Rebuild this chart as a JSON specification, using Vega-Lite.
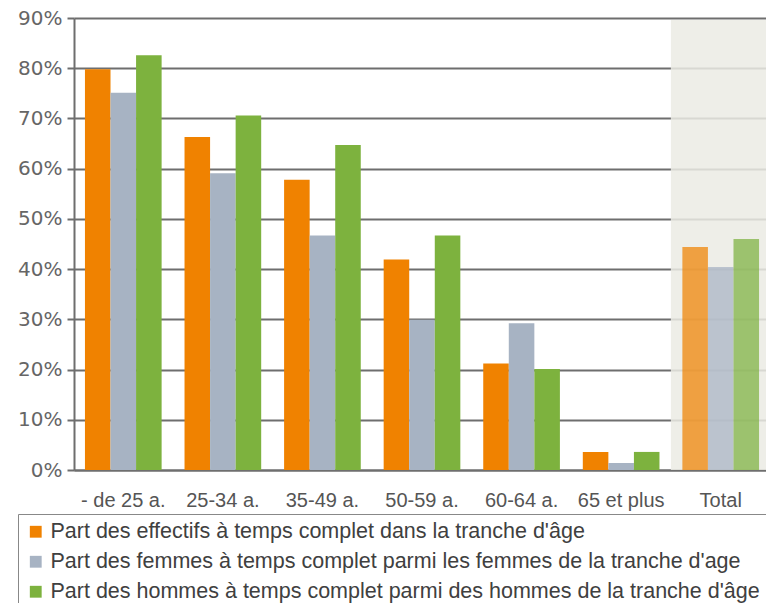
{
  "$schema": "https://vega.github.io/schema/vega-lite/v6.json",
  "width": 696,
  "height": 452,
  "autosize": "none",
  "padding": {"left": 74, "top": 18, "right": 0, "bottom": 133},
  "background": "white",
  "config": {
    "view": {"stroke": null},
    "axis": {"gridColor": "#6e6e6e", "gridWidth": 2, "domainColor": "#6e6e6e", "domainWidth": 2, "tickColor": "#6e6e6e", "tickWidth": 2},
    "axisX": {"labelAngle": 0, "ticks": false, "grid": false, "labelPadding": 20, "labelFont": "Liberation Sans", "labelFontSize": 20, "labelColor": "#555555"},
    "axisY": {"tickSize": 7, "labelPadding": 5, "labelFont": "DejaVu Sans", "labelFontSize": 20, "labelColor": "#666666", "grid": true}
  },
  "layer": [
    {
      "data": {"values": [{}]},
      "mark": {"type": "bar", "color": "#ebebe4", "opacity": 0.85, "width": {"band": 1.3}},
      "encoding": {
        "x": {"datum": "Total", "type": "nominal", "title": null},
        "y": {"datum": 89.6, "type": "quantitative", "title": null}
      }
    },
    {
      "data": {
        "values": [
          {"cat": "- de 25 a.", "serie": "Part des effectifs à temps complet dans la tranche d'âge", "value": 79.8},
          {"cat": "- de 25 a.", "serie": "Part des femmes à temps complet parmi les femmes de la tranche d'age", "value": 75.1},
          {"cat": "- de 25 a.", "serie": "Part des hommes à temps complet parmi des hommes de la tranche d'âge", "value": 82.6},
          {"cat": "25-34 a.", "serie": "Part des effectifs à temps complet dans la tranche d'âge", "value": 66.3},
          {"cat": "25-34 a.", "serie": "Part des femmes à temps complet parmi les femmes de la tranche d'age", "value": 59.1},
          {"cat": "25-34 a.", "serie": "Part des hommes à temps complet parmi des hommes de la tranche d'âge", "value": 70.6},
          {"cat": "35-49 a.", "serie": "Part des effectifs à temps complet dans la tranche d'âge", "value": 57.8},
          {"cat": "35-49 a.", "serie": "Part des femmes à temps complet parmi les femmes de la tranche d'age", "value": 46.7},
          {"cat": "35-49 a.", "serie": "Part des hommes à temps complet parmi des hommes de la tranche d'âge", "value": 64.7},
          {"cat": "50-59 a.", "serie": "Part des effectifs à temps complet dans la tranche d'âge", "value": 41.9},
          {"cat": "50-59 a.", "serie": "Part des femmes à temps complet parmi les femmes de la tranche d'age", "value": 29.9},
          {"cat": "50-59 a.", "serie": "Part des hommes à temps complet parmi des hommes de la tranche d'âge", "value": 46.7},
          {"cat": "60-64 a.", "serie": "Part des effectifs à temps complet dans la tranche d'âge", "value": 21.2},
          {"cat": "60-64 a.", "serie": "Part des femmes à temps complet parmi les femmes de la tranche d'age", "value": 29.2},
          {"cat": "60-64 a.", "serie": "Part des hommes à temps complet parmi des hommes de la tranche d'âge", "value": 20.1},
          {"cat": "65 et plus", "serie": "Part des effectifs à temps complet dans la tranche d'âge", "value": 3.6},
          {"cat": "65 et plus", "serie": "Part des femmes à temps complet parmi les femmes de la tranche d'age", "value": 1.4},
          {"cat": "65 et plus", "serie": "Part des hommes à temps complet parmi des hommes de la tranche d'âge", "value": 3.6},
          {"cat": "Total", "serie": "Part des effectifs à temps complet dans la tranche d'âge", "value": 44.4},
          {"cat": "Total", "serie": "Part des femmes à temps complet parmi les femmes de la tranche d'age", "value": 40.4},
          {"cat": "Total", "serie": "Part des hommes à temps complet parmi des hommes de la tranche d'âge", "value": 46.0}
        ]
      },
      "mark": {"type": "bar"},
      "encoding": {
        "x": {
          "field": "cat",
          "type": "nominal",
          "title": null,
          "scale": {"domain": ["- de 25 a.", "25-34 a.", "35-49 a.", "50-59 a.", "60-64 a.", "65 et plus", "Total"], "paddingInner": 0.23, "paddingOuter": 0.11},
          "axis": {"title": null}
        },
        "xOffset": {
          "field": "serie",
          "type": "nominal",
          "scale": {"domain": ["Part des effectifs à temps complet dans la tranche d'âge", "Part des femmes à temps complet parmi les femmes de la tranche d'age", "Part des hommes à temps complet parmi des hommes de la tranche d'âge"], "paddingInner": 0, "paddingOuter": 0}
        },
        "y": {
          "field": "value",
          "type": "quantitative",
          "title": null,
          "scale": {"domain": [0, 90], "nice": false},
          "axis": {"title": null, "values": [0, 10, 20, 30, 40, 50, 60, 70, 80, 90], "labelExpr": "datum.value + '%'"}
        },
        "color": {
          "field": "serie",
          "type": "nominal",
          "scale": {"domain": ["Part des effectifs à temps complet dans la tranche d'âge", "Part des femmes à temps complet parmi les femmes de la tranche d'age", "Part des hommes à temps complet parmi des hommes de la tranche d'âge"], "range": ["#f08200", "#a7b3c3", "#7db23e"]},
          "legend": {"title": null, "orient": "none", "legendX": -56, "legendY": 496, "direction": "vertical", "strokeColor": "#888888", "padding": 7, "symbolType": "square", "symbolSize": 140, "symbolStrokeWidth": 0, "labelFontSize": 21.5, "labelFont": "Liberation Sans", "labelColor": "#404040", "labelLimit": 900, "rowPadding": 7, "labelOffset": 4}
        },
        "opacity": {"condition": {"test": "datum.cat === 'Total'", "value": 0.72}, "value": 1}
      }
    }
  ]
}
